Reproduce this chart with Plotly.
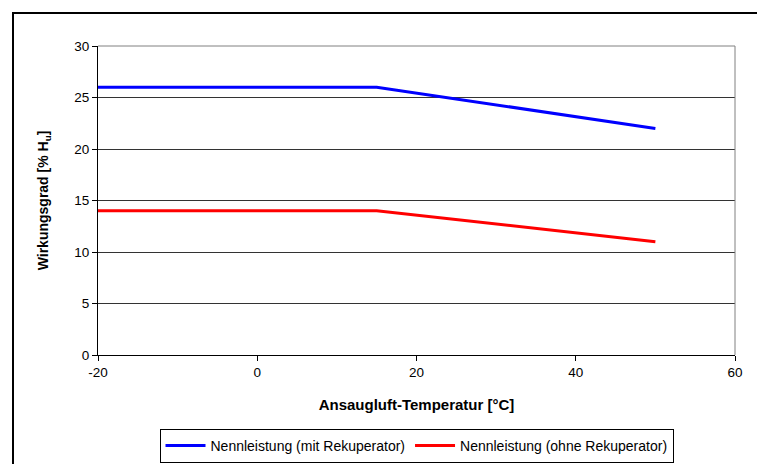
import plotly.graph_objects as go

temps = [-20, 0, 15, 50]
mit_rek = [26, 26, 26, 22]
ohne_rek = [14, 14, 14, 11]
names = ["Nennleistung (mit Rekuperator)", "Nennleistung (ohne Rekuperator)"]
colors = ["#0000FF", "#FF0000"]
x_ticks = [-20, 0, 20, 40, 60]
x_ticktext = ["-20", "0", "20", "40", "60"]
y_ticks = [0, 5, 10, 15, 20, 25, 30]

fig = go.Figure()
for vals, name, col in zip([mit_rek, ohne_rek], names, colors):
    fig.add_trace(go.Scatter(x=temps, y=vals, mode="lines", name=name,
                             line=dict(color=col, width=3)))

W, H = 757, 464
L, R, T, B = 98, 22, 46, 109
pw, ph = W - L - R, H - T - B

def px(x):
    return (x - L) / pw

def py(y):
    return (H - B - y) / ph

fig.update_layout(
    width=W, height=H,
    margin=dict(l=L, r=R, t=T, b=B, autoexpand=False),
    paper_bgcolor="white", plot_bgcolor="white",
    font=dict(family="Liberation Sans, Arial", size=13.5, color="black"),
    showlegend=True,
    legend=dict(orientation="h", x=0.5, xanchor="center", y=py(429), yanchor="top",
                bordercolor="black", borderwidth=1, font=dict(size=14),
                itemwidth=40, tracegroupgap=0),
    xaxis=dict(range=[-20, 60], tickvals=x_ticks, ticktext=x_ticktext, showgrid=False,
               zeroline=False, showline=True, linecolor="black", linewidth=1,
               ticks="outside", ticklen=5, tickcolor="black", automargin=False,
               title=dict(text="<b>Ansaugluft-Temperatur [°C]</b>", font=dict(size=15), standoff=20)),
    yaxis=dict(range=[0, 30], tickvals=y_ticks, showgrid=True,
               gridcolor="#333333", gridwidth=1, zeroline=False, showline=True,
               linecolor="black", linewidth=1, ticks="outside", ticklen=5, tickcolor="black",
               automargin=False,
               title=dict(text="<b>Wirkungsgrad [% H<sub>u</sub>]</b>", font=dict(size=14), standoff=22)),
    shapes=[
        dict(type="line", xref="paper", yref="paper", x0=0, x1=1, y0=1, y1=1,
             line=dict(color="#808080", width=1)),
        dict(type="line", xref="paper", yref="paper", x0=1, x1=1, y0=0, y1=1,
             line=dict(color="#808080", width=1)),
        dict(type="rect", xref="paper", yref="paper", x0=px(13), x1=px(770),
             y0=py(480), y1=py(13), line=dict(color="black", width=2), layer="below"),
    ],
)

fig.write_html("out.html")
